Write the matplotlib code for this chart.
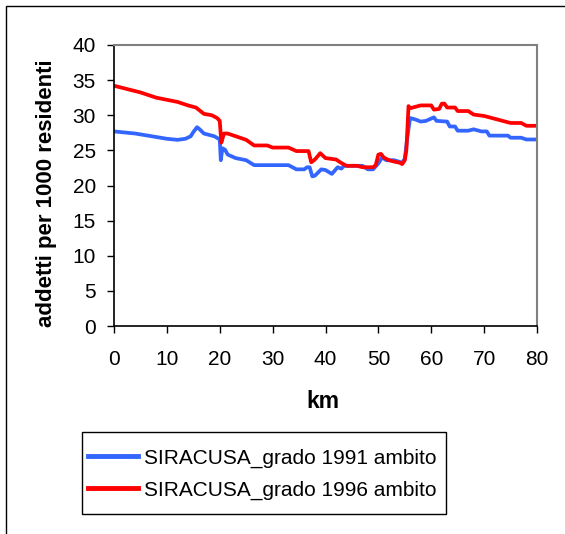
import matplotlib
matplotlib.use("Agg")
import matplotlib.pyplot as plt
from matplotlib.patches import Rectangle

plt.rcParams['font.family'] = ['Liberation Sans', 'DejaVu Sans']

km_1991 = [0, 4, 8, 10, 12, 13.5, 14.5, 15, 15.7, 16.2, 17, 18, 19, 20, 20.2, 20.5, 21, 21.5, 23, 25,
           26.5, 33, 34.5, 36, 36.5, 37, 37.5, 38, 39.2, 40, 41.2, 42.3, 43, 43.5, 47, 48, 49, 50, 50.7,
           51.5, 53, 54.5, 55, 55.5, 56, 57, 58, 59, 60.5, 61, 63, 63.5, 64.5, 65, 67, 68, 69.5, 70.5,
           71, 74.5, 75, 77, 78, 80]
val_1991 = [27.7, 27.4, 26.9, 26.65, 26.5, 26.65, 27.0, 27.6, 28.3, 28.0, 27.4, 27.2, 27.0, 26.55, 23.6,
            25.3, 25.1, 24.4, 23.9, 23.6, 22.9, 22.9, 22.3, 22.3, 22.6, 22.6, 21.3, 21.4, 22.3, 22.2,
            21.65, 22.6, 22.4, 22.8, 22.8, 22.3, 22.3, 23.15, 24.0, 23.6, 23.6, 23.25, 23.8, 27.0, 29.6,
            29.4, 29.1, 29.2, 29.7, 29.2, 29.1, 28.4, 28.4, 27.8, 27.8, 28.0, 27.7, 27.7, 27.1, 27.1,
            26.8, 26.8, 26.55, 26.55]

km_1996 = [0, 5, 8, 10, 12, 14, 15.5, 16, 17, 18.5, 19.5, 20, 20.3, 20.8, 21.5, 25, 26.5, 29, 30, 33,
           34.5, 36.8, 37.3, 38, 39, 40, 42, 43, 44, 46, 47, 49, 49.5, 50, 50.5, 51, 52, 53, 54, 54.5,
           55, 55.3, 55.7, 56, 57, 58, 60, 60.5, 61.5, 62, 62.5, 63, 64.5, 65, 67, 68, 70, 71, 73, 75,
           77, 78, 80]
val_1996 = [34.2, 33.25, 32.5, 32.2, 31.9, 31.4, 31.1, 30.8, 30.2, 30.0, 29.6, 29.2, 26.1, 27.4, 27.4,
            26.5, 25.7, 25.7, 25.4, 25.4, 24.9, 24.9, 23.3, 23.7, 24.6, 23.9, 23.7, 23.2, 22.8, 22.8,
            22.6, 22.6, 22.9, 24.4, 24.5, 24.0, 23.6, 23.4, 23.25, 23.05, 23.6, 25.1, 31.3, 31.0, 31.2,
            31.4, 31.4, 30.8, 30.9, 31.65, 31.65, 31.1, 31.1, 30.6, 30.6, 30.1, 29.9, 29.7, 29.3, 28.9,
            28.9, 28.5, 28.5]

labels = ["SIRACUSA_grado 1991 ambito", "SIRACUSA_grado 1996 ambito"]
colors = ["#3366FF", "#FF0000"]
x_ticks = [0, 10, 20, 30, 40, 50, 60, 70, 80]
y_ticks = [0, 5, 10, 15, 20, 25, 30, 35, 40]

W, H = 565, 534
fig = plt.figure(figsize=(W / 100, H / 100), dpi=100)
fig.patches.append(Rectangle((6 / W, -0.1), 1.2, 1 - 6 / H + 0.1, transform=fig.transFigure,
                             fill=False, edgecolor="black", linewidth=1.0))

ax = fig.add_axes([114 / W, 1 - 326 / H, (537 - 114) / W, (326 - 45) / H])
ax.plot(km_1991, val_1991, color=colors[0], lw=2.7, label=labels[0], solid_joinstyle="round")
ax.plot(km_1996, val_1996, color=colors[1], lw=2.7, label=labels[1], solid_joinstyle="round")

ax.set_xlim(0, 80)
ax.set_ylim(0, 40)
ax.set_xticks(x_ticks)
ax.set_yticks(y_ticks)
ax.tick_params(axis="both", direction="out", length=5, width=1, labelsize=15, colors="black")
ax.tick_params(axis="x", pad=12)
ax.tick_params(axis="y", pad=8)
for s in ["left", "bottom"]:
    ax.spines[s].set_color("black")
    ax.spines[s].set_linewidth(1.2)
for s in ["top", "right"]:
    ax.spines[s].set_color("#808080")
    ax.spines[s].set_linewidth(1.5)

ax.set_ylabel("addetti per 1000 residenti", fontsize=16, fontweight="bold")
ax.yaxis.set_label_coords(-(114 - 57) / (537 - 114), 0.473)
ax.set_xlabel("km", fontsize=16.5, fontweight="bold")
ax.xaxis.set_label_coords(0.493, -(390 - 326) / (326 - 45))

# legend (frame drawn separately so padding matches the reference)
leg = ax.legend(loc="upper left", bbox_to_anchor=(82 / W, 1 - 442 / H), bbox_transform=fig.transFigure,
                fontsize=15, frameon=False, handlelength=2.4, handletextpad=0.3,
                borderpad=0.3, labelspacing=0.62, borderaxespad=0)
for line in leg.get_lines():
    line.set_linewidth(3.5)
fig.patches.append(Rectangle((82 / W, 1 - 514 / H), (446 - 82) / W, (514 - 432) / H,
                             transform=fig.transFigure, fill=False, edgecolor="black",
                             linewidth=1.0, zorder=5))

fig.savefig("out.png", dpi=100)
